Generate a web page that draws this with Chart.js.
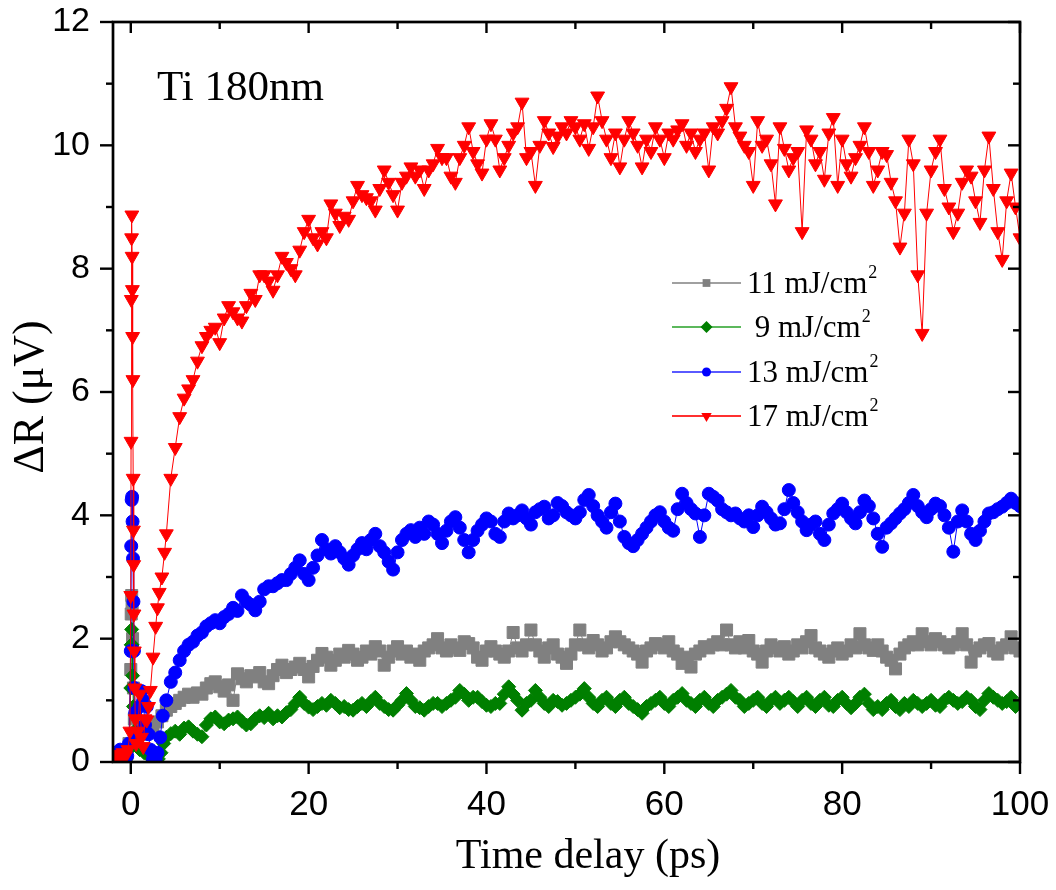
<!DOCTYPE html>
<html>
<head>
<meta charset="utf-8">
<script src="https://cdn.jsdelivr.net/npm/chart.js@4/dist/chart.umd.min.js"></script>
<style>
  html, body { margin: 0; padding: 0; background: #fff; }
  #wrap { width: 1056px; height: 890px; }
</style>
</head>
<body>
<div id="wrap"><canvas id="chart" width="1056" height="890"></canvas></div>
<script>
// axis ticks
const xTicks = [0, 20, 40, 60, 80, 100];
const xMinorTicks = [10, 30, 50, 70, 90];
const yTicks = [0, 2, 4, 6, 8, 10, 12];
const yMinorTicks = [1, 3, 5, 7, 9, 11];

// legend text (the "2" is drawn as superscript)
const fluenceLabels = ['11 mJ/cm', ' 9 mJ/cm', '13 mJ/cm', '17 mJ/cm'];
const sampleLabel = 'Ti 180nm';

// time delays (ps) for the main part of every scan
const delays = [
  4, 4.5, 5, 5.5, 6, 6.5, 7, 7.5, 8, 8.5,
  9, 9.5, 10, 10.5, 11, 11.5, 12, 12.5, 13, 13.5,
  14, 14.5, 15, 15.5, 16, 16.5, 17, 17.5, 18, 18.5,
  19, 19.5, 20, 20.5, 21, 21.5, 22, 22.5, 23, 23.5,
  24, 24.5, 25, 25.5, 26, 26.5, 27, 27.5, 28, 28.5,
  29, 29.5, 30, 30.5, 31, 31.5, 32, 32.5, 33, 33.5,
  34, 34.5, 35, 35.5, 36, 36.5, 37, 37.5, 38, 38.5,
  39, 39.5, 40, 40.5, 41, 41.5, 42, 42.5, 43, 43.5,
  44, 44.5, 45, 45.5, 46, 46.5, 47, 47.5, 48, 48.5,
  49, 49.5, 50, 50.5, 51, 51.5, 52, 52.5, 53, 53.5,
  54, 54.5, 55, 55.5, 56, 56.5, 57, 57.5, 58, 58.5,
  59, 59.5, 60, 60.5, 61, 61.5, 62, 62.5, 63, 63.5,
  64, 64.5, 65, 65.5, 66, 66.5, 67, 67.5, 68, 68.5,
  69, 69.5, 70, 70.5, 71, 71.5, 72, 72.5, 73, 73.5,
  74, 74.5, 75, 75.5, 76, 76.5, 77, 77.5, 78, 78.5,
  79, 79.5, 80, 80.5, 81, 81.5, 82, 82.5, 83, 83.5,
  84, 84.5, 85, 85.5, 86, 86.5, 87, 87.5, 88, 88.5,
  89, 89.5, 90, 90.5, 91, 91.5, 92, 92.5, 93, 93.5,
  94, 94.5, 95, 95.5, 96, 96.5, 97, 97.5, 98, 98.5,
  99, 99.5, 100
];

// 11 mJ/cm2 (grey squares)
const grayEarlyT = [-1.6, -1.0, -0.5, -0.2, 0, 0.05, 0.1, 0.15, 0.2, 0.3, 0.4, 0.6, 1.0, 1.5, 2.0, 2.5, 3.0, 3.5];
const grayEarly  = [0.05, 0.1, 0.1, 0.3, 1.5, 2.4, 2.7, 2.5, 2.0, 1.2, 0.7, 0.4, 0.5, 0.45, 0.5, 0.55, 0.65, 0.75];
const grayMain = [
  0.84, 0.9, 0.95, 1.0, 1.05, 1.1, 1.05, 1.12, 1.1, 1.2,
  1.27, 1.3, 1.22, 1.15, 1.25, 1.0, 1.43, 1.35, 1.3, 1.4,
  1.38, 1.45, 1.3, 1.27, 1.4, 1.5, 1.57, 1.45, 1.5, 1.54,
  1.6, 1.5, 1.38, 1.55, 1.65, 1.76, 1.7, 1.57, 1.65, 1.75,
  1.7, 1.81, 1.75, 1.65, 1.7, 1.8, 1.75, 1.87, 1.8, 1.57,
  1.7, 1.8, 1.87, 1.75, 1.8, 1.7, 1.75, 1.65, 1.8, 1.85,
  1.9, 2.0, 1.85, 1.8, 1.9, 1.85, 1.81, 1.95, 1.92, 1.85,
  1.7, 1.65, 1.8, 1.87, 1.8, 1.75, 1.7, 1.8, 2.1, 1.85,
  1.8, 1.9, 2.14, 1.9, 1.8, 1.7, 1.85, 1.9, 1.75, 1.7,
  1.6, 1.75, 1.9, 2.14, 1.9, 1.85, 1.97, 1.9, 1.8, 1.85,
  1.95, 2.03, 1.95, 1.9, 1.85, 1.8, 1.75, 1.62, 1.8, 1.85,
  1.92, 1.9, 1.85, 1.95, 1.8, 1.75, 1.6, 1.7, 1.54, 1.75,
  1.8, 1.87, 1.85, 1.9, 1.95, 1.9, 2.14, 1.9, 1.85, 1.95,
  1.85, 1.97, 1.8, 1.75, 1.62, 1.8, 1.9, 1.85, 1.8, 1.87,
  1.75, 1.8, 1.9, 1.85, 1.95, 2.05, 1.85, 1.8, 1.75, 1.7,
  1.8, 1.85, 1.75, 1.8, 1.9, 1.85, 2.08, 1.9, 1.85, 1.81,
  1.9, 1.8, 1.7, 1.65, 1.51, 1.75, 1.85, 1.9, 1.95, 1.9,
  2.08, 1.95, 1.9, 2.0, 1.95, 1.9, 1.85, 1.9, 1.95, 2.08,
  1.9, 1.62, 1.8, 1.85, 1.9, 1.92, 1.8, 1.75, 1.85, 1.9,
  2.03, 1.85, 1.8
];

// 9 mJ/cm2 (green diamonds)
const greenEarlyT = [-1.6, -1.0, -0.5, -0.2, 0, 0.05, 0.1, 0.15, 0.2, 0.3, 0.4, 0.6, 1.0, 1.5, 2.0, 2.5, 2.8, 3.1, 3.4, 3.7];
const greenEarly  = [0.05, 0.08, 0.05, 0.2, 1.2, 1.9, 2.15, 1.9, 1.4, 0.9, 0.5, 0.3, 0.2, 0.15, 0.1, 0.05, 0.02, 0.05, 0.15, 0.3];
const greenMain = [
  0.4, 0.46, 0.5, 0.45, 0.55, 0.57, 0.5, 0.45, 0.41, 0.6,
  0.7, 0.73, 0.65, 0.62, 0.68, 0.7, 0.73, 0.66, 0.6, 0.62,
  0.7, 0.75, 0.72, 0.79, 0.7, 0.75, 0.73, 0.8, 0.85, 0.95,
  1.05, 0.95, 0.89, 0.85, 0.9, 0.95, 0.92, 1.0, 0.95, 0.88,
  0.9, 0.85, 0.84, 0.9, 0.95, 0.9, 0.98, 1.05, 0.95, 0.9,
  0.85, 0.84, 0.92, 1.0, 1.11, 1.0, 0.9, 0.88, 0.84, 0.9,
  0.95, 0.95, 0.9, 0.95, 1.0, 1.05, 1.16, 1.1, 1.0, 1.05,
  1.05, 0.98, 0.92, 0.9, 0.95, 0.95, 1.1, 1.22, 1.1, 1.0,
  0.84, 0.95, 1.0, 1.16, 1.05, 0.95, 0.9, 1.0, 0.98, 0.92,
  0.95, 1.0, 1.05, 1.1, 1.19, 1.05, 0.95, 0.9, 1.0, 1.05,
  0.95, 0.9, 1.0, 1.05, 0.95, 0.9, 0.85, 0.79, 0.9, 0.95,
  1.0, 1.05, 0.95, 0.9, 1.0, 1.05, 1.11, 1.0, 0.95, 0.9,
  1.0, 1.05, 0.95, 0.9, 1.0, 1.05, 1.1, 1.16, 1.05, 1.0,
  0.9, 0.95, 1.0, 1.05, 0.95, 0.9, 1.0, 1.05, 0.95, 1.0,
  1.05, 0.98, 0.9, 1.0, 1.05, 0.95, 0.9, 1.0, 1.05, 0.92,
  0.9, 1.0, 1.05, 0.95, 0.88, 0.95, 1.05, 1.1, 0.95, 0.85,
  0.9, 0.85, 0.95, 1.0, 0.9, 0.85, 0.95, 0.9, 1.0, 0.95,
  0.9, 0.95, 1.0, 0.92, 0.9, 1.0, 1.05, 1.0, 0.95, 0.98,
  1.05, 1.0, 0.9, 0.85, 1.0, 1.11, 1.05, 1.0, 0.95, 0.98,
  1.05, 0.9, 0.95
];

// 13 mJ/cm2 (blue circles)
const blueEarlyT = [-1.6, -1.2, -0.8, -0.4, -0.2, 0, 0.05, 0.1, 0.15, 0.2, 0.25, 0.3, 0.35, 0.4, 0.5, 0.7, 1.0, 1.2, 1.4, 1.6, 1.8, 2.0, 2.2, 2.5, 2.8, 3.0, 3.3, 3.6];
const blueEarly  = [0.1, 0.2, 0.15, 0.1, 0.3, 1.8, 3.5, 4.25, 4.3, 3.9, 3.3, 2.6, 1.8, 1.2, 0.8, 0.4, 0.9, 1.15, 1.0, 0.6, 0.9, 0.45, 0.2, 0.05, 0.05, 0.15, 0.4, 0.75];
const blueMain = [
  1.0, 1.3, 1.45, 1.65, 1.8, 1.9, 1.95, 2.05, 2.1, 2.2,
  2.25, 2.3, 2.25, 2.35, 2.4, 2.5, 2.45, 2.7, 2.6, 2.55,
  2.46, 2.6, 2.8, 2.85, 2.85, 2.9, 2.95, 2.95, 3.05, 3.15,
  3.27, 3.05, 2.95, 3.15, 3.35, 3.6, 3.45, 3.38, 3.5, 3.4,
  3.3, 3.2, 3.35, 3.45, 3.55, 3.45, 3.6, 3.7, 3.5, 3.4,
  3.25, 3.12, 3.4, 3.6, 3.7, 3.76, 3.65, 3.8, 3.7, 3.9,
  3.85, 3.7, 3.55, 3.75, 3.9, 3.97, 3.8, 3.6, 3.4, 3.6,
  3.75, 3.85, 3.95, 3.9, 3.7, 3.65, 3.9, 4.03, 3.95, 4.0,
  4.08, 3.95, 3.85, 4.05, 4.1, 4.14, 3.95, 4.0, 4.2, 4.15,
  4.05, 4.0, 3.95, 4.05, 4.25, 4.33, 4.15, 4.0, 3.9, 3.8,
  4.05, 4.19, 3.9, 3.65, 3.55, 3.5, 3.6, 3.7, 3.8, 3.9,
  4.0, 4.05, 3.9, 3.8, 3.75, 4.1, 4.35, 4.2, 4.1, 4.03,
  3.65, 4.0, 4.35, 4.3, 4.24, 4.1, 4.05, 4.0, 4.03, 3.95,
  3.9, 4.0, 3.81, 4.0, 4.14, 4.05, 3.95, 3.85, 3.87, 4.1,
  4.41, 4.2, 4.05, 3.9, 3.76, 3.85, 3.9, 3.7, 3.6, 3.85,
  4.03, 4.1, 4.19, 4.05, 3.95, 3.87, 4.05, 4.24, 4.15, 3.95,
  3.7, 3.49, 3.8, 3.87, 3.95, 4.03, 4.1, 4.2, 4.33, 4.15,
  4.05, 3.97, 4.1, 4.19, 4.15, 4.0, 3.8, 3.41, 3.9, 4.08,
  3.9, 3.7, 3.6, 3.75, 3.9, 4.03, 4.05, 4.1, 4.14, 4.2,
  4.27, 4.2, 4.15
];

// 17 mJ/cm2 (red triangles)
const redEarlyT = [-1.8, -1.5, -1.2, -0.9, -0.6, -0.3, -0.1, 0, 0.03, 0.06, 0.09, 0.12, 0.15, 0.18, 0.21, 0.24, 0.27, 0.3, 0.33, 0.36, 0.4, 0.45, 0.5, 0.6, 0.8, 1.0, 1.2, 1.4, 1.6, 1.8, 2.0, 2.2, 2.5, 2.8, 3.0, 3.2, 3.5, 3.8];
const redEarly  = [0.1, 0.12, 0.08, 0.15, 0.1, 0.2, 0.5, 2.7, 5.2, 7.5, 8.5, 8.87, 8.2, 7.66, 6.9, 6.2, 4.6, 3.76, 3.2, 2.4, 1.8, 1.2, 0.7, 0.3, 0.5, 1.1, 0.4, 0.25, 0.7, 0.68, 0.9, 1.16, 1.7, 2.2, 2.5, 2.75, 3.0, 3.4];
const redMain = [
  3.7, 4.6, 5.1, 5.6, 5.9, 6.05, 6.2, 6.5, 6.75, 6.9,
  7.0, 7.05, 6.8, 7.2, 7.4, 7.3, 7.2, 7.15, 7.4, 7.6,
  7.5, 7.9, 7.9, 7.8, 7.65, 7.9, 8.2, 8.1, 8.0, 7.9,
  8.3, 8.6, 8.8, 8.5, 8.4, 8.6, 8.5, 9.05, 8.9, 8.7,
  8.85, 8.8, 9.1, 9.35, 9.2, 9.15, 9.1, 8.95, 9.3, 9.6,
  9.4, 9.2, 8.95, 9.4, 9.5, 9.65, 9.5, 9.6, 9.3, 9.6,
  9.7, 9.95, 9.8, 9.8, 9.5, 9.4, 9.8, 10.0, 10.3, 9.9,
  9.7, 9.55, 10.1, 10.35, 10.1, 9.6, 9.8, 10.0, 10.2, 10.3,
  10.7, 9.8, 9.9, 9.35, 10.0, 10.4, 10.2, 9.98, 10.15, 10.3,
  10.2, 10.4, 10.3, 10.1, 10.35, 9.95, 10.3, 10.8, 10.4, 10.1,
  9.8, 10.2, 9.65, 10.1, 10.4, 10.2, 10.0, 9.65, 10.1, 9.9,
  10.3, 10.1, 9.8, 10.2, 10.1, 10.25, 10.35, 10.0, 10.2, 9.9,
  10.1, 10.2, 9.6, 10.3, 10.2, 10.4, 10.6, 10.95, 10.3, 10.15,
  10.0, 9.9, 9.35, 10.4, 10.0, 10.1, 9.7, 9.05, 10.3, 9.95,
  9.6, 9.8, 9.9, 8.6, 10.25, 10.1, 9.7, 9.9, 9.45, 10.2,
  10.45, 9.35, 10.1, 9.7, 9.5, 9.8, 10.0, 10.3, 9.9, 9.35,
  9.6, 9.9, 9.85, 9.4, 9.1, 8.35, 8.9, 10.1, 9.7, 7.9,
  6.95, 8.9, 9.6, 9.9, 10.1, 9.3, 9.0, 8.6, 8.9, 9.4,
  9.6, 9.5, 9.1, 8.75, 9.6, 10.15, 9.3, 8.6, 8.15, 9.1,
  9.55, 9.0, 8.5
];

function toPoints(earlyT, early, main) {
  const pts = earlyT.map((t, i) => ({ x: t, y: early[i] }));
  delays.forEach((t, i) => pts.push({ x: t, y: main[i] }));
  return pts;
}

const series = [
  { label: fluenceLabels[0], pts: toPoints(grayEarlyT, grayEarly, grayMain), color: '#808080', legendLine: '#a0a0a0', style: 'rect', r: 8.5, lr: 5.5, order: 3 },
  { label: fluenceLabels[1], pts: toPoints(greenEarlyT, greenEarly, greenMain), color: '#007f00', legendLine: '#5cb85c', style: 'rectRot', r: 7, lr: 6, order: 2 },
  { label: fluenceLabels[2], pts: toPoints(blueEarlyT, blueEarly, blueMain), color: '#0000ff', legendLine: '#5a5aff', style: 'circle', r: 6.5, lr: 4.5, order: 1 },
  { label: fluenceLabels[3], pts: toPoints(redEarlyT, redEarly, redMain), color: '#ff0000', legendLine: '#ff3030', style: 'triangle', r: 8, lr: 6, order: 0 }
];

const datasets = series.map(s => ({
  label: s.label + '²',
  data: s.pts,
  showLine: true,
  borderColor: s.color,
  borderWidth: 1,
  backgroundColor: s.color,
  pointStyle: s.style,
  pointRotation: s.style === 'triangle' ? 180 : 0,
  pointRadius: s.r,
  pointBorderWidth: 1,
  pointBorderColor: s.color,
  pointBackgroundColor: s.color,
  order: s.order
}));

// small marker drawer for the legend
function drawMarker(ctx, style, x, y, r) {
  ctx.beginPath();
  if (style === 'rect') {
    const h = r * Math.SQRT1_2;
    ctx.rect(x - h, y - h, 2 * h, 2 * h);
  } else if (style === 'rectRot') {
    ctx.moveTo(x, y - r); ctx.lineTo(x + r, y); ctx.lineTo(x, y + r); ctx.lineTo(x - r, y);
    ctx.closePath();
  } else if (style === 'circle') {
    ctx.arc(x, y, r, 0, Math.PI * 2);
  } else {
    ctx.moveTo(x, y + r);
    ctx.lineTo(x - r * 0.866, y - r * 0.5);
    ctx.lineTo(x + r * 0.866, y - r * 0.5);
    ctx.closePath();
  }
  ctx.fill();
}

const framePlugin = {
  id: 'frame',
  afterDatasetsDraw(chart) {
    const { ctx, chartArea: a, scales: { x, y } } = chart;
    ctx.save();
    ctx.strokeStyle = '#000';
    ctx.lineWidth = 2.7;
    ctx.strokeRect(a.left, a.top, a.right - a.left, a.bottom - a.top);
    const seg = (x1, y1, x2, y2) => { ctx.beginPath(); ctx.moveTo(x1, y1); ctx.lineTo(x2, y2); ctx.stroke(); };
    ctx.lineWidth = 2.4;
    xTicks.forEach(v => {
      const px = x.getPixelForValue(v);
      seg(px, a.bottom, px, a.bottom + 12);
      seg(px, a.top, px, a.top + 11);
    });
    xMinorTicks.forEach(v => {
      const px = x.getPixelForValue(v);
      seg(px, a.bottom, px, a.bottom + 7);
      seg(px, a.top, px, a.top + 7);
    });
    yTicks.forEach(v => {
      const py = y.getPixelForValue(v);
      seg(a.left - 13, py, a.left, py);
      seg(a.right - 12, py, a.right, py);
    });
    yMinorTicks.forEach(v => {
      const py = y.getPixelForValue(v);
      seg(a.left - 7, py, a.left, py);
      seg(a.right - 7, py, a.right, py);
    });
    ctx.restore();
  },
  afterDraw(chart) {
    const { ctx } = chart;
    ctx.save();
    ctx.fillStyle = '#000';
    // axis titles
    ctx.font = '42px "Liberation Serif", "Times New Roman", serif';
    ctx.textAlign = 'center';
    ctx.textBaseline = 'alphabetic';
    ctx.fillText('Time delay (ps)', 588, 868);
    ctx.save();
    ctx.translate(43, 397);
    ctx.rotate(-Math.PI / 2);
    ctx.font = '44px "Liberation Serif", "Times New Roman", serif';
    ctx.fillText('ΔR (μV)', 0, 0);
    ctx.restore();
    // sample label
    ctx.textAlign = 'left';
    ctx.font = '43px "Liberation Serif", "Times New Roman", serif';
    ctx.fillText(sampleLabel, 157, 100);
    // legend
    const rows = [283, 327, 372, 416];
    series.forEach((s, i) => {
      const ry = rows[i];
      ctx.strokeStyle = s.legendLine;
      ctx.lineWidth = 2;
      ctx.beginPath(); ctx.moveTo(672, ry); ctx.lineTo(741, ry); ctx.stroke();
      ctx.fillStyle = s.color;
      drawMarker(ctx, s.style, 706.5, ry, s.lr);
      ctx.fillStyle = '#000';
      ctx.font = '31px "Liberation Serif", "Times New Roman", serif';
      ctx.fillText(s.label, 747, ry + 10);
      const w = ctx.measureText(s.label).width;
      ctx.font = '18px "Liberation Serif", "Times New Roman", serif';
      ctx.fillText('2', 747 + w + 1, ry - 5);
    });
    ctx.restore();
  }
};

Chart.defaults.font.family = '"Liberation Sans", Arial, sans-serif';
Chart.defaults.color = '#000';

new Chart(document.getElementById('chart'), {
  type: 'scatter',
  data: { datasets: datasets },
  options: {
    responsive: false,
    animation: false,
    events: [],
    layout: { padding: { left: 6, right: 36, top: 22, bottom: 6 } },
    plugins: { legend: { display: false }, tooltip: { enabled: false } },
    scales: {
      x: {
        type: 'linear',
        min: -2,
        max: 100,
        afterBuildTicks: s => { s.ticks = xTicks.map(v => ({ value: v })); },
        afterFit: s => { s.height = 122; s.paddingLeft = 0; s.paddingRight = 0; },
        grid: { display: false, drawTicks: false },
        border: { display: false },
        ticks: { font: { size: 35 }, color: '#000', padding: 22, maxRotation: 0 }
      },
      y: {
        type: 'linear',
        min: 0,
        max: 12,
        afterBuildTicks: s => { s.ticks = yTicks.map(v => ({ value: v })); },
        afterFit: s => { s.width = 107; s.paddingTop = 0; s.paddingBottom = 0; },
        grid: { display: false, drawTicks: false },
        border: { display: false },
        ticks: { font: { size: 34 }, color: '#000', padding: 23 }
      }
    }
  },
  plugins: [framePlugin]
});
</script>
</body>
</html>
